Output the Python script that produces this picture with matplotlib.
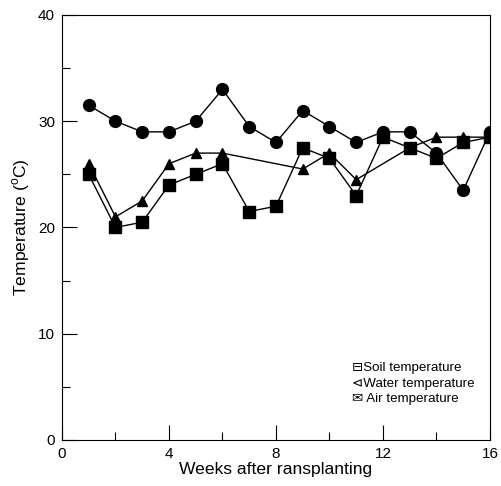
import numpy as np
import matplotlib.pyplot as plt
from matplotlib.ticker import MultipleLocator

plt.rcParams['font.family'] = ['Liberation Sans', 'DejaVu Sans']
plt.rcParams['mathtext.fontset'] = 'custom'
plt.rcParams['mathtext.rm'] = 'Liberation Sans'

# weeks after transplanting
weeks_air = [1, 2, 3, 4, 5, 6, 7, 8, 9, 10, 11, 12, 13, 14, 15, 16]
air_temp = [31.5, 30, 29, 29, 30, 33, 29.5, 28, 31, 29.5, 28, 29, 29, 27, 23.5, 29]

weeks_water = [1, 2, 3, 4, 5, 6, 9, 10, 11, 13, 14, 15, 16]
water_temp = [26, 21, 22.5, 26, 27, 27, 25.5, 27, 24.5, 27.5, 28.5, 28.5, 28.5]

weeks_soil = [1, 2, 3, 4, 5, 6, 7, 8, 9, 10, 11, 12, 13, 14, 15, 16]
soil_temp = [25, 20, 20.5, 24, 25, 26, 21.5, 22, 27.5, 26.5, 23, 28.5, 27.5, 26.5, 28, 28.5]

legend_labels = ['Soil temperature', 'Water temperature', 'Air temperature']
legend_icons = ['\u229f', '\u22b2', '\u2709 ']

fig = plt.figure(figsize=(5.02, 4.86), dpi=100)
ax = fig.add_axes([0.1235, 0.0947, 0.8525, 0.8745])

ax.plot(weeks_air, air_temp, 'k-o', lw=1, ms=8.5)
ax.plot(weeks_water, water_temp, 'k-^', lw=1, ms=7)
ax.plot(weeks_soil, soil_temp, 'k-s', lw=1, ms=8)

ax.set_xlim(0, 16)
ax.set_ylim(0, 40)
ax.xaxis.set_major_locator(MultipleLocator(4))
ax.xaxis.set_minor_locator(MultipleLocator(2))
ax.yaxis.set_major_locator(MultipleLocator(10))
ax.yaxis.set_minor_locator(MultipleLocator(5))
ax.tick_params(which='major', direction='in', length=11, width=0.8, labelsize=11, pad=5)
ax.tick_params(which='minor', direction='in', length=6, width=0.8)

ax.set_xlabel('Weeks after ransplanting', fontsize=12.6, labelpad=1)
ax.set_ylabel('Temperature ($^{\\mathrm{o}}$C)', fontsize=12.6, labelpad=4)

for i, (icon, lab) in enumerate(zip(legend_icons, legend_labels)):
    ax.text(0.678, 0.169 - i * 0.0365, icon + lab, transform=ax.transAxes,
            fontsize=9.6, va='center', ha='left',
            family=['Liberation Sans', 'DejaVu Sans'])

fig.savefig('out.png', dpi=100)
